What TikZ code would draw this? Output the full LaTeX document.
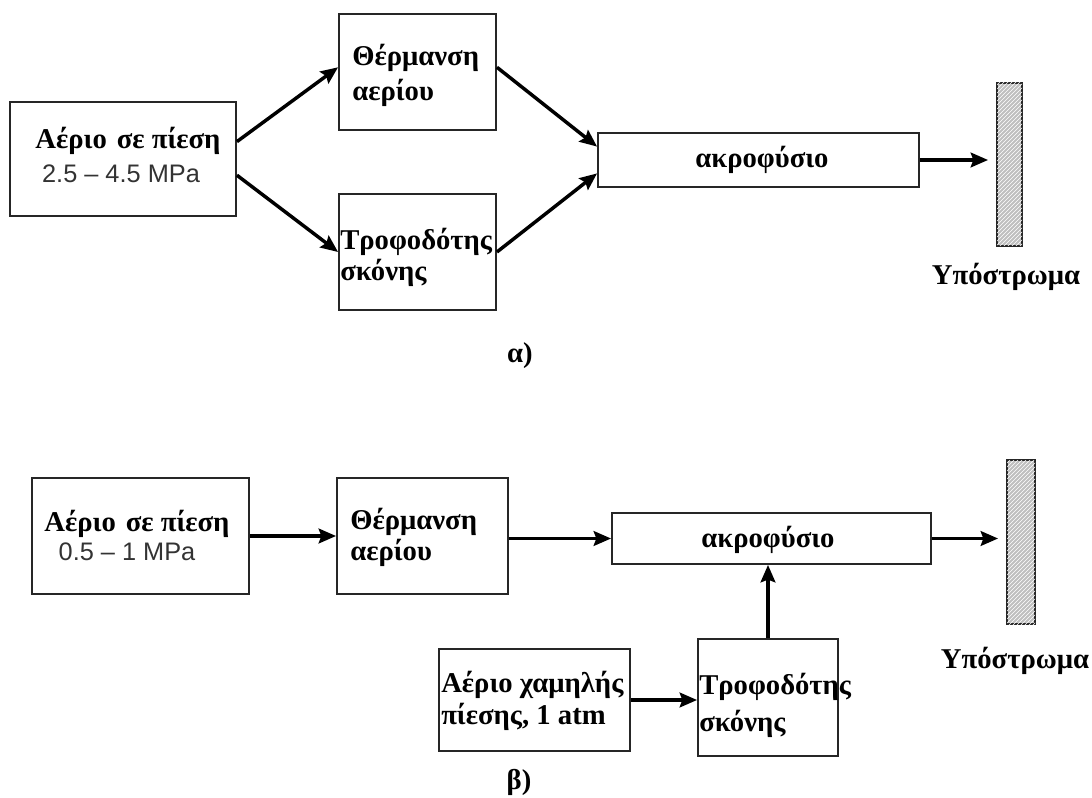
\documentclass[tikz,border=0pt]{standalone}
\usepackage{fontspec}
\setmainfont{Liberation Serif}
\newfontfamily\arialf{Liberation Sans}
\usetikzlibrary{arrows.meta,patterns,calc}
\tikzset{
  box/.style={draw=black!85, line width=1.4pt, rectangle, inner sep=0pt, fill=white},
  txt/.style={inner sep=0pt, font=\fontsize{21.5}{23}\selectfont\bfseries},
  num/.style={inner sep=0pt, font=\fontsize{19}{21}\selectfont\arialf, text=black!80},
  arr/.style={line width=2.6pt, -{Stealth[length=13pt,width=11pt,inset=2pt]}},
  substrate/.style={draw=black!85, line width=1.4pt, rectangle, inner sep=0pt, fill=gray!50,
    postaction={pattern=north east lines, pattern color=white}}
}
\begin{document}
\begin{tikzpicture}[x=0.75pt,y=-0.75pt]
\useasboundingbox (0,0) rectangle (1092,798);
% ---------- (a) ----------
\node[box, minimum width=169.5pt, minimum height=85.5pt] (A1) at (123,159) {};
\node[box, minimum width=117.75pt, minimum height=87pt] (H1) at (417.5,72) {};
\node[box, minimum width=117.75pt, minimum height=87pt] (T1) at (417.5,252) {};
\node[box, minimum width=240.75pt, minimum height=40.5pt] (K1) at (758.5,160) {};
\node[substrate, minimum width=18.75pt, minimum height=122.25pt] (S1) at (1009.5,164.5) {};

\node[txt] (A1a) at (128,141) {Αέριο\hspace{2pt} σε πίεση};
\node[num] (A1b) at (121,174) {2.5 – 4.5 MPa};
\node[txt, anchor=west] (H1a) at (352,58) {Θέρμανση};
\node[txt, anchor=west] (H1b) at (352,93) {αερίου};
\node[txt, anchor=west] (T1a) at (340,242) {Τροφοδότης};
\node[txt, anchor=west] (T1b) at (340,273) {σκόνης};
\node[txt] (K1a) at (762,160) {ακροφύσιο};
\node[txt] (S1a) at (1006,277) {Υπόστρωμα};
\node[txt] (capa) at (520,356) {α)};

\draw[arr] ($(A1.north east)!0.35!(A1.south east)$) -- ($(H1.north west)!0.46!(H1.south west)$);
\draw[arr] ($(A1.north east)!0.64!(A1.south east)$) -- (T1.west);
\draw[arr] ($(H1.north east)!0.46!(H1.south east)$) -- ($(K1.north west)!0.26!(K1.south west)$);
\draw[arr] (T1.east) -- ($(K1.north west)!0.74!(K1.south west)$);
\draw[arr, shorten >=6pt] (K1.east) -- (K1.east -| S1.west);

% ---------- (b) ----------
\node[box, minimum width=162.75pt, minimum height=87pt] (A2) at (140.5,536) {};
\node[box, minimum width=128.25pt, minimum height=87pt] (H2) at (422.5,536) {};
\node[box, minimum width=239.25pt, minimum height=38.25pt] (K2) at (771.5,538.5) {};
\node[box, minimum width=143.25pt, minimum height=76.5pt] (X2) at (534.5,700) {};
\node[box, minimum width=105pt, minimum height=87.75pt] (T2) at (768,697.5) {};
\node[substrate, minimum width=21pt, minimum height=123pt] (S2) at (1021,542) {};

\node[txt] (A2a) at (137,524) {Αέριο\hspace{2pt} σε πίεση};
\node[num] (A2b) at (127,552) {0.5 – 1 MPa};
\node[txt, anchor=west] (H2a) at (350,522) {Θέρμανση};
\node[txt, anchor=west] (H2b) at (350,553) {αερίου};
\node[txt] (K2a) at (768,540) {ακροφύσιο};
\node[txt, anchor=west] (X2a) at (441,685) {Αέριο χαμηλής};
\node[txt, anchor=west] (X2b) at (441,717) {πίεσης, 1 atm};
\node[txt, anchor=west] (T2a) at (699,687) {Τροφοδότης};
\node[txt, anchor=west] (T2b) at (699,724) {σκόνης};
\node[txt] (S2a) at (1015,661) {Υπόστρωμα};
\node[txt] (capb) at (519,782) {β)};

\draw[arr] (A2.east) -- (A2.east -| H2.west);
\draw[arr] (K2.west -| H2.east) -- (K2.west);
\draw[arr] (X2.east) -- (X2.east -| T2.west);
\draw[arr] (T2.north) -- (T2.north |- K2.south);
\draw[arr, shorten >=6pt] (K2.east) -- (K2.east -| S2.west);
\end{tikzpicture}
\end{document}
